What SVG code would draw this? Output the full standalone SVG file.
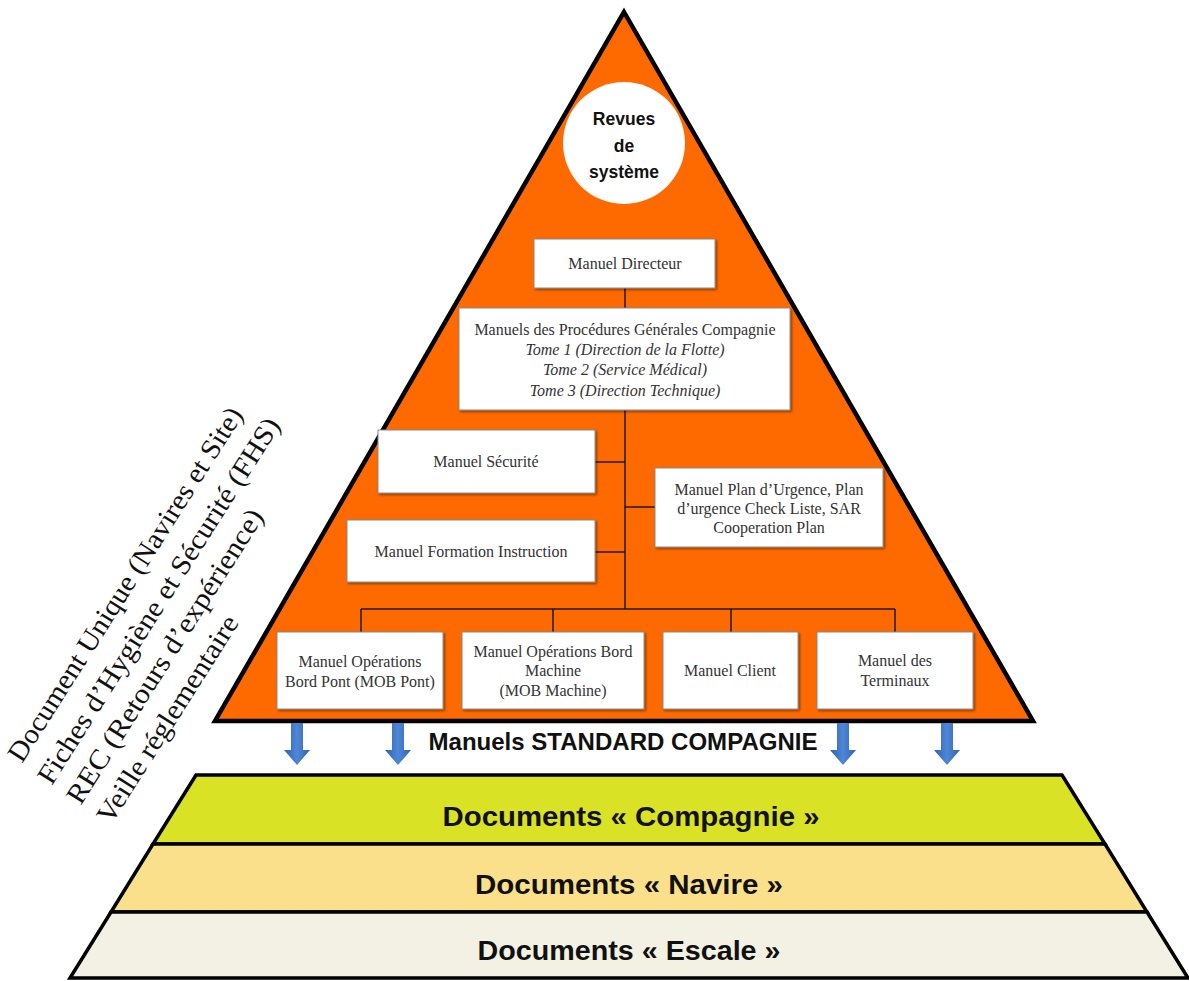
<svg xmlns="http://www.w3.org/2000/svg" width="1189" height="981" viewBox="0 0 1189 981">
<defs>
<linearGradient id="blue" x1="0" y1="0" x2="1" y2="0">
<stop offset="0" stop-color="#2f63b5"/>
<stop offset="0.5" stop-color="#4f86d6"/>
<stop offset="1" stop-color="#2f63b5"/>
</linearGradient>
<filter id="sh" x="-10%" y="-10%" width="130%" height="130%">
<feDropShadow dx="1.5" dy="1.5" stdDeviation="1.2" flood-color="#000" flood-opacity="0.45"/>
</filter>
</defs>
<style>
.box{fill:#ffffff;stroke:#8a8a8a;stroke-width:1;filter:url(#sh)}
.t{font-family:"Liberation Serif","Times New Roman",serif;font-size:16px;fill:#333333;text-anchor:middle}
.ti{font-style:italic}
.b{font-family:"Liberation Sans",Arial,sans-serif;font-weight:bold;fill:#111111;text-anchor:middle}
.con{stroke:#1a1a1a;stroke-width:1.5;fill:none}
.band{stroke:#000;stroke-width:3.5;stroke-linejoin:miter}
.side{font-family:"Liberation Serif","Times New Roman",serif;font-size:28px;fill:#111111}
.arr{fill:url(#blue)}
</style>
<rect width="1189" height="981" fill="#ffffff"/>

<g id="pyramid-top">
<polygon points="624,12 1033,721 215,721" fill="#ff6a00" stroke="#000" stroke-width="4.5" stroke-linejoin="miter"/>
</g>

<g id="revues">
<circle cx="624" cy="143" r="61" fill="#ffffff"/>
<text class="b" x="624" y="125" font-size="17.5">Revues</text>
<text class="b" x="624" y="152" font-size="17.5">de</text>
<text class="b" x="624" y="178" font-size="17.5">système</text>
</g>

<g id="connectors">
<line class="con" x1="625" y1="288" x2="625" y2="308"/>
<line class="con" x1="625" y1="410" x2="625" y2="609"/>
<line class="con" x1="595" y1="462" x2="625" y2="462"/>
<line class="con" x1="595" y1="552" x2="625" y2="552"/>
<line class="con" x1="625" y1="507" x2="655" y2="507"/>
<line class="con" x1="361" y1="609" x2="895" y2="609"/>
<line class="con" x1="361" y1="609" x2="361" y2="632"/>
<line class="con" x1="553" y1="609" x2="553" y2="632"/>
<line class="con" x1="731" y1="609" x2="731" y2="632"/>
<line class="con" x1="895" y1="609" x2="895" y2="632"/>
</g>

<g id="manuel-directeur">
<rect class="box" x="534" y="239" width="181" height="49"/>
<text class="t" x="625" y="269">Manuel Directeur</text>
</g>

<g id="procedures">
<rect class="box" x="459" y="308" width="331" height="102"/>
<text class="t" x="625" y="335">Manuels des Procédures Générales Compagnie</text>
<text class="t ti" x="625" y="355">Tome 1 (Direction de la Flotte)</text>
<text class="t ti" x="625" y="375">Tome 2 (Service Médical)</text>
<text class="t ti" x="625" y="396">Tome 3 (Direction Technique)</text>
</g>

<g id="securite">
<rect class="box" x="378" y="430" width="217" height="63"/>
<text class="t" x="486" y="467">Manuel Sécurité</text>
</g>

<g id="formation">
<rect class="box" x="347" y="520" width="248" height="62"/>
<text class="t" x="471" y="557">Manuel Formation Instruction</text>
</g>

<g id="plan-urgence">
<rect class="box" x="655" y="468" width="228" height="79"/>
<text class="t" x="769" y="495">Manuel Plan d’Urgence, Plan</text>
<text class="t" x="769" y="514">d’urgence Check Liste, SAR</text>
<text class="t" x="769" y="533">Cooperation Plan</text>
</g>

<g id="mob-pont">
<rect class="box" x="277" y="632" width="166" height="77"/>
<text class="t" x="360" y="667">Manuel Opérations</text>
<text class="t" x="360" y="687">Bord Pont (MOB Pont)</text>
</g>

<g id="mob-machine">
<rect class="box" x="462" y="632" width="182" height="77"/>
<text class="t" x="553" y="657">Manuel Opérations Bord</text>
<text class="t" x="553" y="676">Machine</text>
<text class="t" x="553" y="696">(MOB Machine)</text>
</g>

<g id="client">
<rect class="box" x="663" y="632" width="135" height="77"/>
<text class="t" x="730" y="676">Manuel Client</text>
</g>

<g id="terminaux">
<rect class="box" x="817" y="632" width="156" height="77"/>
<text class="t" x="895" y="666">Manuel des</text>
<text class="t" x="895" y="686">Terminaux</text>
</g>

<g id="arrows">
<path class="arr" d="M291,723 H303 V750 H310 L297,765 L284,750 H291 Z"/>
<path class="arr" d="M392,723 H404 V750 H411 L398,765 L385,750 H392 Z"/>
<path class="arr" d="M837,723 H849 V750 H856 L843,765 L830,750 H837 Z"/>
<path class="arr" d="M941,723 H953 V750 H960 L947,765 L934,750 H941 Z"/>
</g>

<g id="standard-label">
<text class="b" x="623" y="750" font-size="24" textLength="389" lengthAdjust="spacingAndGlyphs">Manuels STANDARD COMPAGNIE</text>
</g>

<g id="docs-compagnie">
<polygon class="band" points="196,775 1062,775 1105,844 153,844" fill="#d9e225"/>
<text class="b" x="631" y="826" font-size="27" textLength="377" lengthAdjust="spacingAndGlyphs">Documents « Compagnie »</text>
</g>
<g id="docs-navire">
<polygon class="band" points="153,844 1105,844 1147,912 111,912" fill="#fae08a"/>
<text class="b" x="629" y="894" font-size="27" textLength="308" lengthAdjust="spacingAndGlyphs">Documents « Navire »</text>
</g>
<g id="docs-escale">
<polygon class="band" points="111,912 1147,912 1188,978 70,978" fill="#f3f1e3"/>
<text class="b" x="629" y="960" font-size="27" textLength="303" lengthAdjust="spacingAndGlyphs">Documents « Escale »</text>
</g>

<g id="side-text" transform="translate(22,764) rotate(-57.6)">
<text class="side" x="0" y="0" textLength="414" lengthAdjust="spacingAndGlyphs">Document Unique (Navires et Site)</text>
<text class="side" x="-3" y="37" textLength="428" lengthAdjust="spacingAndGlyphs">Fiches d’Hygiène et Sécurité (FHS)</text>
<text class="side" x="-4" y="72" textLength="343" lengthAdjust="spacingAndGlyphs">REC (Retours d’expérience)</text>
<text class="side" x="-4" y="108" textLength="240" lengthAdjust="spacingAndGlyphs">Veille réglementaire</text>
</g>
</svg>
